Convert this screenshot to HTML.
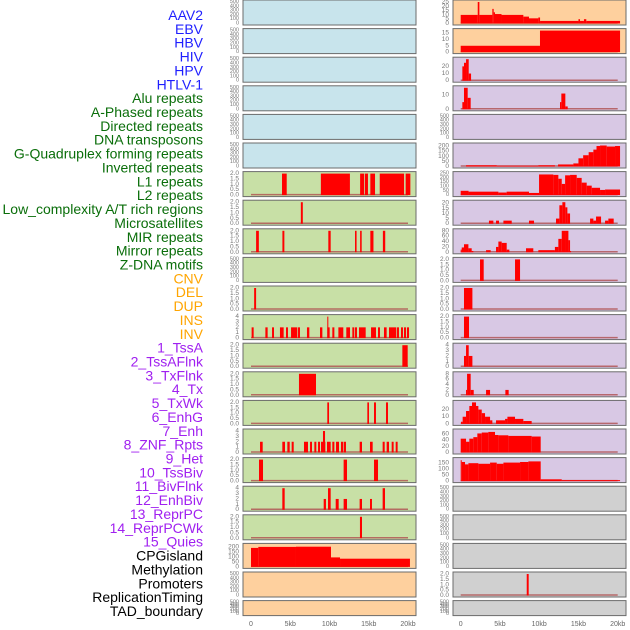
<!DOCTYPE html>
<html><head><meta charset="utf-8"><style>
body{margin:0;background:#fff}
svg{display:block;font-family:"Liberation Sans",sans-serif}
</style></head><body>
<svg id="chart" width="630" height="630" viewBox="0 0 630 630"></svg>
<script>
const labels=["AAV2","EBV","HBV","HIV","HPV","HTLV-1","Alu repeats","A-Phased repeats","Directed repeats","DNA transposons","G-Quadruplex forming repeats","Inverted repeats","L1 repeats","L2 repeats","Low_complexity A/T rich regions","Microsatellites","MIR repeats","Mirror repeats","Z-DNA motifs","CNV","DEL","DUP","INS","INV","1_TssA","2_TssAFlnk","3_TxFlnk","4_Tx","5_TxWk","6_EnhG","7_Enh","8_ZNF_Rpts","9_Het","10_TssBiv","11_BivFlnk","12_EnhBiv","13_ReprPC","14_ReprPCWk","15_Quies","CPGisland","Methylation","Promoters","ReplicationTiming","TAD_boundary"];
const labelColors=[].concat(Array(6).fill("#1f1fff"),Array(13).fill("#0a6e0a"),Array(5).fill("#ffa500"),Array(15).fill("#a020f0"),Array(5).fill("#000"));
const xTicks=[0,5,10,15,20];
const xTickLabels=["0","5kb","10kb","15kb","20kb"];
const leftBg=["#c8e4ec","#c8e4ec","#c8e4ec","#c8e4ec","#c8e4ec","#c8e4ec","#c8e0a6","#c8e0a6","#c8e0a6","#c8e0a6","#c8e0a6","#c8e0a6","#c8e0a6","#c8e0a6","#c8e0a6","#c8e0a6","#c8e0a6","#c8e0a6","#c8e0a6","#fed09e","#fed09e","#fed09e"];
const rightBg=["#fed09e","#fed09e","#d8c8e4","#d8c8e4","#d8c8e4","#d8c8e4","#d8c8e4","#d8c8e4","#d8c8e4","#d8c8e4","#d8c8e4","#d8c8e4","#d8c8e4","#d8c8e4","#d8c8e4","#d8c8e4","#d8c8e4","#d0d0d0","#d0d0d0","#d0d0d0","#d0d0d0","#d0d0d0"];
const leftMax=[500,500,500,500,500,500,2,2,2,500,2,4,2,2,2,4,2,4,2,215,500,500];
const rightMax=[25,17,30,15,500,210,250,21,80,2,2,2,4,8,30,70,180,500,500,500,2,500];
const leftTicks=[[0,100,200,300,400,500],[0,100,200,300,400,500],[0,100,200,300,400,500],[0,100,200,300,400,500],[0,100,200,300,400,500],[0,100,200,300,400,500],[0,0.5,1,1.5,2],[0,0.5,1,1.5,2],[0,0.5,1,1.5,2],[0,100,200,300,400,500],[0,0.5,1,1.5,2],[0,1,2,3,4],[0,0.5,1,1.5,2],[0,0.5,1,1.5,2],[0,0.5,1,1.5,2],[0,1,2,3,4],[0,0.5,1,1.5,2],[0,1,2,3,4],[0,0.5,1,1.5,2],[0,50,100,150,200],[0,100,200,300,400,500],[0,100,200,300,400,500]];
const rightTicks=[[0,5,10,15,20,25],[0,5,10,15],[0,10,20],[0,10],[0,100,200,300,400,500],[0,50,100,150,200],[0,50,100,150,200,250],[0,5,10,15,20],[0,20,40,60,80],[0,0.5,1,1.5,2],[0,0.5,1,1.5,2],[0,0.5,1,1.5,2],[0,1,2,3,4],[0,2,4,6,8],[0,10,20],[0,20,40,60],[0,50,100,150],[0,100,200,300,400,500],[0,100,200,300,400,500],[0,100,200,300,400,500],[0,0.5,1,1.5,2],[0,100,200,300,400,500]];
// segments: [startKb, endKb, value]
const leftSeries=[[],[],[],[],[],[],
[[3.95,4.55,2],[8.9,12.6,2],[13.9,14.4,2],[14.5,14.9,2],[15.2,15.8,2],[16.4,19.5,2],[19.7,20.3,2]],
[[6.35,6.6,2]],
[[0.65,1.0,2],[4.0,4.25,2],[9.85,10.15,2],[13.25,13.45,2],[13.9,14.1,2],[15.2,15.6,2],[16.8,17.1,2]],
[],
[[0.4,0.65,2]],
[[0.08,0.34,2],[1.83,2.12,2],[2.68,2.93,2],[3.69,4.16,2],[4.46,4.71,2],[5.1,5.9,2],[5.99,6.24,2],[7.13,7.43,2],[8.79,9.09,2],[9.72,10.02,2],[9.72,9.85,4],[10.36,10.62,2],[11.13,11.76,2],[12.14,12.61,2],[12.91,13.16,2],[13.25,13.5,2],[13.76,14.61,2],[15.29,15.92,2],[16.18,16.43,2],[16.94,17.28,2],[17.58,18.51,2],[18.6,18.85,2],[19.11,19.36,2],[19.49,19.75,2],[19.87,20.13,2]],
[[19.28,19.96,2]],
[[6.11,8.28,2]],
[[9.72,9.94,2],[14.82,15.03,2],[15.67,15.92,2],[17.2,17.45,2]],
[[1.15,1.49,2],[3.99,4.33,2],[4.63,4.93,2],[5.18,5.44,2],[6.75,7.26,2],[7.52,7.77,2],[8.07,8.32,2],[8.54,8.79,2],[8.92,9.47,2],[9.17,9.43,4],[9.68,10.15,2],[10.36,10.62,2],[10.83,11.21,2],[11.46,11.72,2],[11.8,12.1,2],[13.84,14.14,2],[15.16,15.5,2],[16.77,17.03,2],[17.28,17.58,2],[17.92,18.17,2],[18.43,18.68,2]],
[[1.02,1.53,2],[11.8,12.23,2],[15.67,16.18,2]],
[[3.99,4.29,4],[9.26,9.55,2],[9.81,10.15,4],[10.79,11.17,2],[11.8,12.23,2],[13.84,14.14,2],[15.16,15.41,2],[16.77,17.07,4]],
[[13.88,14.14,2]],
[[0,0.93,190],[0.93,5.73,200],[5.73,10.19,202],[10.19,11.34,95],[11.34,20.25,82]],
[],[]];
const rightSeries=[
[[0,2.17,10],[2.17,2.38,25],[2.38,4.03,10],[4.03,4.2,17],[4.2,4.37,13],[4.37,5.2,11],[5.2,7.98,10],[7.98,8.7,8],[8.7,9.89,6],[9.89,10.11,7],[10.11,15.0,3],[15.0,15.2,5],[15.2,15.7,3],[15.7,16.0,5],[16.0,20.3,3]],
[[0,10.1,5],[10.1,20.3,17]],
[[0.21,0.42,20],[0.42,0.68,25],[0.68,1.02,30],[1.02,1.32,10]],
[[0.21,0.42,5],[0.42,0.89,15],[0.89,1.27,8],[12.65,12.82,5],[12.82,13.33,11],[13.33,13.63,2]],
[],
[[0.68,4.59,12],[4.59,9.89,8],[9.89,12.0,12],[12.4,14.35,20],[14.35,15.0,30],[15.0,15.6,80],[15.6,16.3,110],[16.3,16.9,140],[16.9,17.3,165],[17.3,17.75,200],[17.75,18.6,205],[18.6,19.66,195],[19.66,20.3,200]],
[[0,1.0,50],[1.0,4.8,40],[4.8,5.85,30],[5.85,8.7,40],[8.7,9.98,25],[9.98,11.8,240],[11.8,12.44,235],[12.44,12.87,190],[12.87,13.3,130],[13.3,13.93,230],[13.93,14.78,235],[14.78,15.41,200],[15.41,16.05,145],[16.05,16.69,110],[16.69,17.75,85],[17.75,18.39,60],[18.39,20.3,65]],
[[3.6,4.16,3],[4.5,4.88,3],[5.44,6.5,3],[8.7,9.34,3],[12.14,12.57,5],[12.57,12.95,18],[12.95,13.33,21],[13.33,13.59,16],[13.59,13.93,10],[16.48,16.9,5],[16.9,17.24,3],[17.24,17.88,7],[18.39,18.81,3],[18.81,19.49,5]],
[[0,0.13,10],[0.13,0.42,18],[0.42,0.98,30],[0.98,1.4,15],[1.4,1.61,5],[3.23,3.82,8],[4.5,4.8,20],[4.8,5.22,40],[5.22,5.86,35],[5.86,6.2,10],[8.32,9.25,15],[9.89,12.0,8],[12.0,12.44,20],[12.44,12.87,50],[12.87,13.29,80],[13.29,13.72,80],[13.72,13.93,45],[13.93,14.05,5]],
[[2.46,2.93,2],[6.92,7.56,2]],
[[0.42,1.49,2]],
[[0.42,1.06,2]],
[[0.42,0.68,2],[0.68,1.02,4],[1.02,1.49,2]],
[[0.68,0.81,2],[0.81,1.27,8],[1.27,1.66,2],[3.23,3.74,2],[5.69,6.11,2]],
[[0.04,0.25,3],[0.25,0.68,10],[0.68,1.1,18],[1.1,1.44,25],[1.44,1.95,30],[1.95,2.25,25],[2.25,2.68,20],[2.68,3.1,15],[3.1,3.74,10],[3.74,4.03,5],[4.5,5.65,5],[5.65,5.95,7],[5.95,6.92,10],[6.92,7.98,7],[7.98,9.04,4]],
[[0,0.68,45],[0.68,1.1,35],[1.1,1.61,45],[1.61,2.12,50],[2.12,2.68,62],[2.68,3.52,65],[3.52,4.37,67],[4.37,4.8,57],[4.8,6.07,56],[6.07,9.04,54],[9.04,10.19,52]],
[[0,0.13,175],[0.13,0.55,160],[0.55,0.98,140],[0.98,2.25,150],[2.25,3.74,145],[3.74,4.59,155],[4.59,5.44,145],[5.44,7.56,155],[7.56,8.62,160],[8.62,10.19,165],[10.19,12.87,15],[12.87,20.3,8]],
[],[],[],
[[8.41,8.66,2]],
[]];

const svg=document.getElementById('chart');
const NS='http://www.w3.org/2000/svg';
function mk(tag,attrs,parent){const e=document.createElementNS(NS,tag);for(const k in attrs)e.setAttribute(k,attrs[k]);(parent||svg).appendChild(e);return e;}

labels.forEach((t,i)=>{
  const el=mk('text',{x:203,y:15+13.86*i,'text-anchor':'end','dominant-baseline':'central','font-size':14,fill:labelColors[i]});
  el.textContent=t;
  
  
});

function drawPanel(side,i,bg,max,ticks,segs){
  const px0=side==='L'?243:453, pw=173;
  const zero=side==='L'?251:460.7, per=7.85;
  const xs=kb=>zero+kb*per;
  const top=28.6*i, h=(i===21?15:25);
  const yTop=top+2, yBot=top+h-1.5;
  const ys=v=>yBot-(v/max)*(yBot-yTop);
  const g=mk('g',{});
  
  
  const r=mk('rect',{x:px0,y:top,width:pw,height:h,fill:bg,stroke:'#6b6b6b','stroke-width':1},g);
  
  
  ticks.forEach(t=>{
    const tx=mk('text',{x:px0-4,y:ys(t),'text-anchor':'end','dominant-baseline':'central','font-size':(max>=100&&ticks.length>5)?5.5:6.5,fill:'#777'},g);
    tx.textContent=(max===2)?t.toFixed(1):String(t);
    
    
  });
  if(segs.length){
    const bl=mk('line',{x1:xs(0),x2:xs(20),y1:yBot-0.5,y2:yBot-0.5,stroke:'#b05050','stroke-width':1.5,opacity:0.8},g);
    
    
  }
  segs.forEach(s=>{
    const x1=xs(s[0]),x2=xs(s[1]);
    const y=Math.max(ys(s[2]),top+0.5);
    const b=mk('rect',{x:x1,y:y,width:Math.max(x2-x1,1),height:yBot-y,fill:'#ff0000'},g);
    
    
  });
}
for(let i=0;i<22;i++){
  drawPanel('L',i,leftBg[i],leftMax[i],leftTicks[i],leftSeries[i]);
  drawPanel('R',i,rightBg[i],rightMax[i],rightTicks[i],rightSeries[i]);
}
['L','R'].forEach(side=>{
  const zero=side==='L'?251:460.7;
  xTicks.forEach((k,j)=>{
    const t=mk('text',{x:zero+k*7.85,y:626,'text-anchor':'middle','font-size':7,fill:'#666'});
    t.textContent=xTickLabels[j];
    
    
  });
});
</script>
</body></html>
